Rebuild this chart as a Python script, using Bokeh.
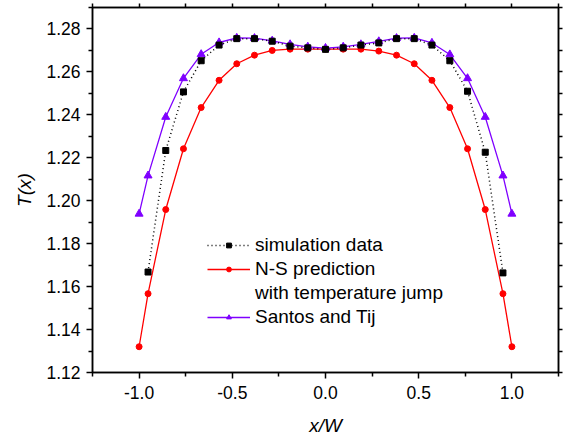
from bokeh.plotting import figure
from bokeh.models import (Range1d, FixedTicker, PrintfTickFormatter, LinearAxis,
                          Legend, LegendItem)
from bokeh.embed import file_html
from bokeh.resources import INLINE

# ---- data ----
x_full = [-1.0, -0.952, -0.857, -0.762, -0.667, -0.571, -0.476, -0.381, -0.286,
          -0.190, -0.095, 0.0, 0.095, 0.190, 0.286, 0.381, 0.476, 0.571, 0.667,
          0.762, 0.857, 0.952, 1.0]
ns_pred = [1.1320, 1.1567, 1.1959, 1.2242, 1.2434, 1.2561, 1.2638, 1.2678, 1.2700,
           1.2706, 1.2706, 1.2706, 1.2706, 1.2706, 1.2697, 1.2678, 1.2638, 1.2561,
           1.2434, 1.2242, 1.1959, 1.1567, 1.1320]
santos = [1.1939, 1.2117, 1.2390, 1.2570, 1.2682, 1.2737, 1.2758, 1.2757, 1.2745,
          1.2728, 1.2717, 1.2711, 1.2717, 1.2728, 1.2742, 1.2757, 1.2758, 1.2735,
          1.2681, 1.2570, 1.2390, 1.2117, 1.1939]
sim_x = [-0.952, -0.857, -0.762, -0.667, -0.571, -0.476, -0.381, -0.286, -0.190,
         -0.095, 0.0, 0.095, 0.190, 0.286, 0.381, 0.476, 0.571, 0.667, 0.762,
         0.857, 0.952]
sim = [1.1668, 1.2234, 1.2507, 1.2652, 1.2725, 1.2755, 1.2755, 1.2743, 1.2720,
       1.2712, 1.2705, 1.2712, 1.2725, 1.2735, 1.2755, 1.2755, 1.2725, 1.2652,
       1.2510, 1.2226, 1.1664]

x_ticks = [-1.0, -0.5, 0.0, 0.5, 1.0]
x_minor = [-1.25, -0.75, -0.25, 0.25, 0.75, 1.25]
y_ticks = [1.12, 1.14, 1.16, 1.18, 1.20, 1.22, 1.24, 1.26, 1.28]
y_minor = [1.13, 1.15, 1.17, 1.19, 1.21, 1.23, 1.25, 1.27, 1.29]

RED = "#FF0000"
PURPLE = "#7F00FF"
FONT = "Liberation Sans"

p = figure(width=566, height=438, output_backend="svg", toolbar_location=None,
           x_range=Range1d(-1.25, 1.25), y_range=Range1d(1.12, 1.29),
           min_border_left=92, min_border_right=8, min_border_top=7,
           min_border_bottom=64)
p.grid.visible = False
p.outline_line_color = "black"
p.outline_line_width = 1.5
p.background_fill_color = "white"
p.border_fill_color = "white"

for ax in p.xaxis:
    ax.ticker = FixedTicker(ticks=x_ticks, minor_ticks=x_minor)
    ax.formatter = PrintfTickFormatter(format="%.1f")
    ax.axis_label = "x/W"
for ax in p.yaxis:
    ax.ticker = FixedTicker(ticks=y_ticks, minor_ticks=y_minor)
    ax.formatter = PrintfTickFormatter(format="%.2f")
    ax.axis_label = "T(x)"

for ax in list(p.xaxis) + list(p.yaxis):
    ax.axis_line_width = 1.5
    ax.major_tick_line_width = 1.5
    ax.minor_tick_line_width = 1.5
    ax.major_tick_out = 6
    ax.major_tick_in = 0
    ax.minor_tick_out = 4
    ax.minor_tick_in = 0
    ax.major_label_text_font = FONT
    ax.major_label_text_font_size = "17.5px"
    ax.major_label_text_color = "black"
    ax.axis_label_text_font = FONT
    ax.axis_label_text_font_size = "19px"
    ax.axis_label_text_font_style = "italic"
    ax.axis_label_text_color = "black"
p.xaxis.major_label_standoff = 7
p.yaxis.major_label_standoff = 6
p.xaxis.axis_label_standoff = 13
p.yaxis.axis_label_standoff = 8

# top and right axes: tick marks only (drawn as minor ticks, so no labels)
top = LinearAxis(ticker=FixedTicker(ticks=[], minor_ticks=x_ticks + x_minor))
right = LinearAxis(ticker=FixedTicker(ticks=[], minor_ticks=y_ticks + y_minor))
for ax in (top, right):
    ax.axis_line_width = 1.5
    ax.minor_tick_line_width = 1.5
    ax.minor_tick_out = 4
    ax.minor_tick_in = 0
    ax.major_tick_out = 0
    ax.major_tick_in = 0
    ax.major_label_standoff = 0
p.add_layout(top, "above")
p.add_layout(right, "right")

# ---- series ----
r_ns_l = p.line(x_full, ns_pred, line_color=RED, line_width=1.3)
r_ns_m = p.scatter(x_full, ns_pred, marker="circle", size=6, fill_color=RED,
                   line_color=RED)
r_st_l = p.line(x_full, santos, line_color=PURPLE, line_width=1.3)
r_st_m = p.scatter(x_full, santos, marker="triangle", size=8, fill_color=PURPLE,
                   line_color=PURPLE)
r_sim_l = p.line(sim_x, sim, line_color="black", line_width=1.5, line_dash="1 3")
r_sim_m = p.scatter(sim_x, sim, marker="square", size=6, fill_color="black",
                    line_color="black")
r_blank = p.line([], [], line_alpha=0)

legend = Legend(items=[
    LegendItem(label="simulation data", renderers=[r_sim_l, r_sim_m]),
    LegendItem(label="N-S prediction", renderers=[r_ns_l, r_ns_m]),
    LegendItem(label="with temperature jump", renderers=[r_blank]),
    LegendItem(label="Santos and Tij", renderers=[r_st_l, r_st_m]),
], location=(115, 43))
legend.border_line_color = None
legend.background_fill_alpha = 0
legend.padding = 0
legend.margin = 0
legend.spacing = 0
legend.label_height = 24
legend.glyph_height = 12
legend.glyph_width = 43
legend.label_standoff = 5
legend.label_text_font = FONT
legend.label_text_font_size = "19px"
legend.label_text_color = "black"
p.add_layout(legend, "center")

open("out.html", "w").write(file_html(p, INLINE))
